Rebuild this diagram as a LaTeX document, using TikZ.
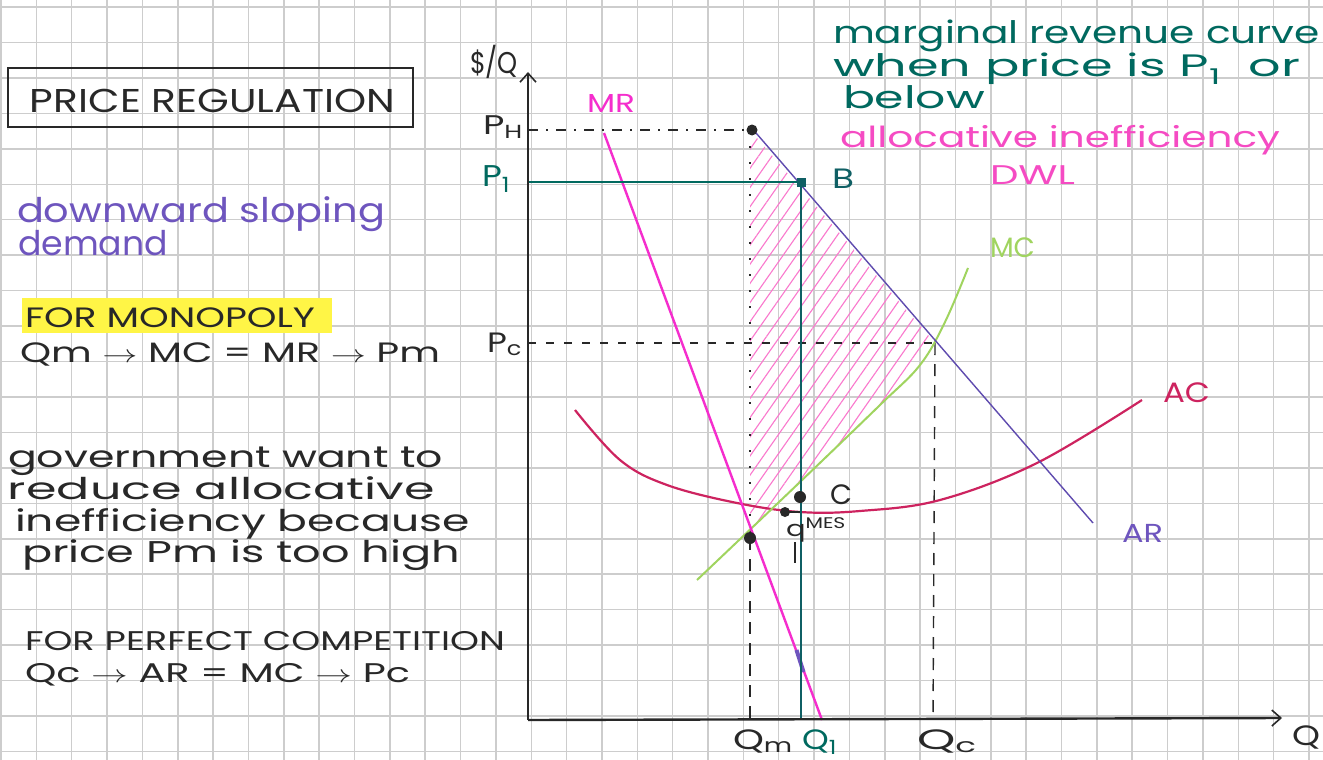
\documentclass[tikz,border=0pt]{standalone}
\usepackage{fontspec}
\setmainfont{Poppins}
\usepackage{graphicx}
\usetikzlibrary{arrows.meta,patterns.meta}
\definecolor{gridc}{RGB}{205,205,205}
\definecolor{tealc}{RGB}{0,105,95}
\definecolor{qone}{RGB}{15,95,100}
\definecolor{pinkc}{RGB}{245,75,195}
\definecolor{mrc}{RGB}{245,45,205}
\definecolor{hatchc}{RGB}{250,120,205}
\definecolor{purp}{RGB}{110,85,190}
\definecolor{arc}{RGB}{95,75,175}
\definecolor{acc}{RGB}{205,35,95}
\definecolor{mcc}{RGB}{160,212,95}
\definecolor{hl}{RGB}{255,245,70}
\definecolor{ink}{RGB}{40,40,40}
\newsavebox\hwbox
\newcommand\hw[3]{\fontsize{#2}{#2}\selectfont\sbox\hwbox{#3}\pgfmathsetmacro\hwsx{#1/\wd\hwbox}\scalebox{\hwsx}[1]{\usebox\hwbox}}
\tikzset{
  txt/.style={anchor=base west,inner sep=0pt,outer sep=0pt},
  gridline/.style={gridc,line width=1.5pt},
  axis/.style={ink,line width=2.4pt,-{Straight Barb[length=9pt,width=16pt,line width=1.6pt]}},
  guide/.style={ink,line width=1.4pt,dash pattern=on 8pt off 10pt},
  dotc/.style={fill=ink,draw=none},
}
\begin{document}
\begin{tikzpicture}[x=1pt,y=-1pt]
\useasboundingbox (0,0) rectangle (1323,760);
\fill[white] (0,0) rectangle (1323,760);
% graph paper
\foreach \i in {0,...,37} \draw[gridline] ({1+35.35*\i},0) -- ({1+35.35*\i},760);
\foreach \j in {0,...,21} \draw[gridline] (0,{7+35.45*\j}) -- (1323,{7+35.45*\j});

% coordinates
\coordinate (O) at (528,720);
\coordinate (ytop) at (528,72);
\coordinate (xend) at (1282,718);
\coordinate (PH) at (528,130);
\coordinate (PHd) at (752,130);
\coordinate (P1) at (528,182);
\coordinate (B) at (801,182);
\coordinate (PC) at (528,343);
\coordinate (E) at (935,343);
\coordinate (QC) at (933,720);
\coordinate (QM) at (750,720);
\coordinate (QMtop) at (750,130);
\coordinate (M) at (750,538);
\coordinate (Q1) at (801,720);
\coordinate (Cdot) at (800,497);
\coordinate (MES) at (785,512);
\coordinate (ARa) at (750,126);
\coordinate (ARb) at (1093,523);
\coordinate (MRa) at (604,133);
\coordinate (MRb) at (822,720);

% hatched DWL area
\fill[pattern={Lines[angle=55,distance=11pt,line width=1.1pt]},pattern color=hatchc]
  (750,130) -- (E) -- (907,380) -- (800,482) -- (750,530) -- cycle;

% guides
\draw[guide,dash pattern=on 10pt off 8pt on 2pt off 8pt] (PH) -- (PHd);
\draw[guide] (PC) -- (E);
\draw[guide,dash pattern=on 12pt off 9pt] (E) -- (QC);
\draw[guide,dash pattern=on 2pt off 14pt] (QMtop) -- (M);
\draw[guide,dash pattern=on 12pt off 9pt] (M) -- (QM);

% curves
\draw[acc,line width=2.2pt] plot[smooth,tension=0.6] coordinates {(575,410) (620,460) (667,485) (737,503) (800,512) (860,511) (940,500) (1037,463) (1142,400)};
\draw[mcc,line width=2pt] plot[smooth,tension=0.6] coordinates {(697,580) (800,482) (880,405) (920,365) (945,322) (968,268)};
\draw[arc,line width=1.4pt] (ARa) -- (ARb);
\draw[mrc,line width=2.4pt] (MRa) -- (MRb);
\draw[purp,line width=4pt] (796.5,650) -- (803.5,672);

% regulation lines
\draw[tealc,line width=2.6pt] (P1) -- (B);
\draw[qone,line width=2.8pt] (B) -- (Q1);
\fill[qone] (797,178) rectangle (806,187);

% axes
\draw[axis] (O) -- (ytop);
\draw[axis] (O) -- (xend);

% dots
\fill[dotc] (PHd) circle (5.5);
\fill[dotc] (M) circle (6);
\fill[dotc] (Cdot) circle (6);
\fill[dotc] (MES) circle (5);
\draw[ink,line width=2pt] (785,512) -- (800,512);
\draw[ink,line width=1.6pt] (795,542) -- (795,563);

% left notes
\draw[ink,line width=2pt] (8,68) rectangle (413,127);
\node[txt,text=ink] (title) at (30,112) {\hw{365}{33}{PRICE REGULATION}};
\node[txt,text=purp] (dsd1) at (17,222) {\hw{368}{34}{downward sloping}};
\node[txt,text=purp] (dsd2) at (18,255) {\hw{150}{34}{demand}};
\fill[hl] (22,298) rectangle (332,333);
\node[txt,text=ink] (mono) at (25,327) {\hw{290}{28}{FOR MONOPOLY}};
\node[txt,text=ink] (mono2) at (20,362) {\hw{420}{28}{Qm $\rightarrow$ MC = MR $\rightarrow$ Pm}};
\node[txt,text=ink] (g1) at (8,467) {\hw{435}{30}{government want to}};
\node[txt,text=ink] (g2) at (8,499) {\hw{427}{30}{reduce allocative}};
\node[txt,text=ink] (g3) at (15,531) {\hw{455}{30}{inefficiency because}};
\node[txt,text=ink] (g4) at (22,562) {\hw{438}{30}{price Pm is too high}};
\node[txt,text=ink] (pc1) at (25,650) {\hw{480}{27}{FOR PERFECT COMPETITION}};
\node[txt,text=ink] (pc2) at (25,682) {\hw{385}{27}{Qc $\rightarrow$ AR = MC $\rightarrow$ Pc}};

% right notes
\node[txt,text=tealc] (r1) at (833,44) {\hw{487}{31}{marginal revenue curve}};
\node[txt,text=tealc] (r2) at (833,77) {\hw{467}{31}{when price is P\textsubscript{1}\ \ or}};
\node[txt,text=tealc] (r3) at (843,109) {\hw{142}{31}{below}};
\node[txt,text=pinkc] (r4) at (840,147) {\hw{440}{29}{allocative inefficiency}};
\node[txt,text=pinkc] (r5) at (990,184) {\hw{85}{27}{DWL}};

% axis and curve labels
\node[txt,text=ink] (ly) at (470,74) {\hw{48}{30}{\$/Q}};
\node[txt,text=ink] (lph) at (483,134) {\hw{40}{27}{P\textsubscript{H}}};
\node[txt,text=tealc] (lp1) at (482,186) {\hw{28}{30}{P\textsubscript{1}}};
\node[txt,text=ink] (lpc) at (487,352) {\hw{35}{28}{P\textsubscript{c}}};
\node[txt,text=mrc] (lmr) at (587,112) {\hw{48}{26}{MR}};
\node[txt,text=qone] (lb) at (832,188) {\hw{22}{28}{B}};
\node[txt,text=mcc] (lmc) at (990,257) {\hw{45}{28}{MC}};
\node[txt,text=acc] (lac) at (1163,402) {\hw{47}{28}{AC}};
\node[txt,text=purp] (lar) at (1122,542) {\hw{41}{26}{AR}};
\node[txt,text=ink] (lc) at (830,504) {\hw{22}{28}{C}};
\node[txt,text=ink] (lmes) at (786,536) {\hw{60}{22}{q\textsuperscript{MES}}};
\node[txt,text=ink] (lqm) at (733,749) {\hw{60}{28}{Q\textsubscript{m}}};
\node[txt,text=tealc] (lq1) at (802,749) {\hw{35}{28}{Q\textsubscript{1}}};
\node[txt,text=ink] (lqc) at (917,749) {\hw{60}{28}{Q\textsubscript{c}}};
\node[txt,text=ink] (lq) at (1292,745) {\hw{28}{28}{Q}};
\end{tikzpicture}
\end{document}
